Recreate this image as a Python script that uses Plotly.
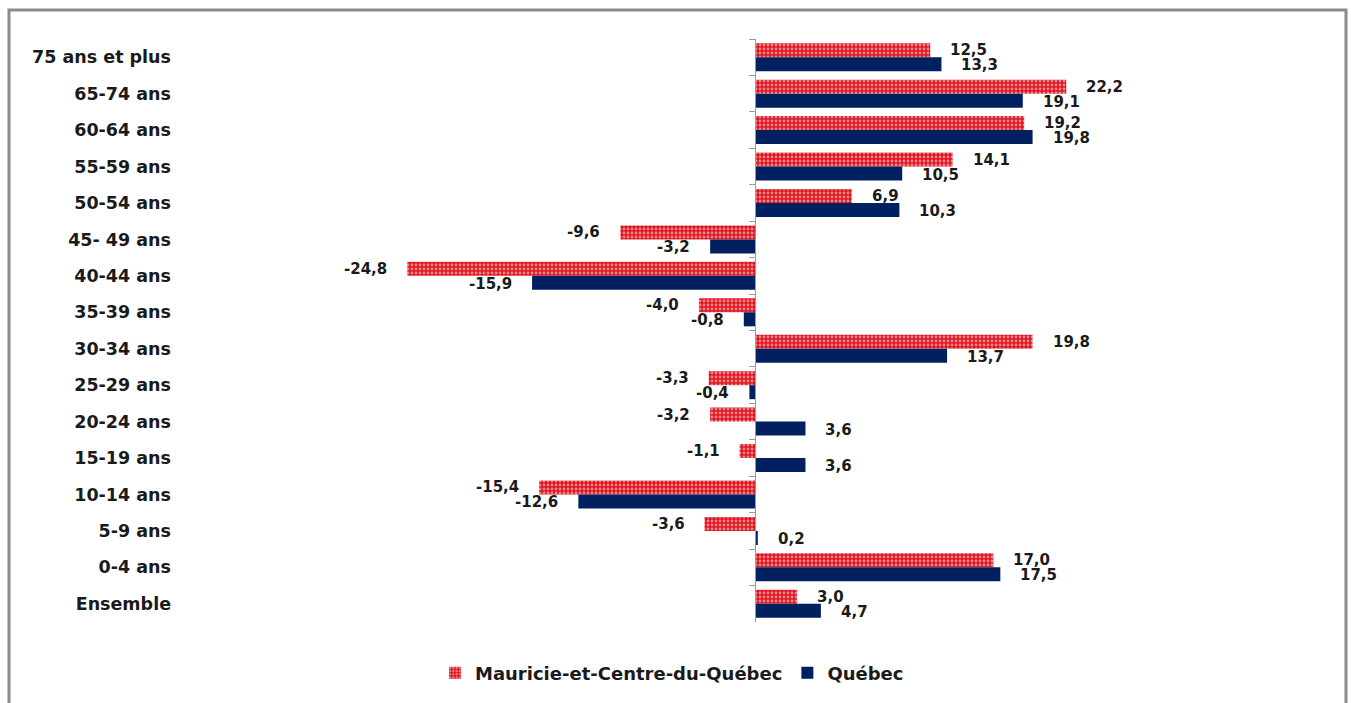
import plotly.graph_objects as go

categories = ["75 ans et plus", "65-74 ans", "60-64 ans", "55-59 ans", "50-54 ans",
              "45- 49 ans", "40-44 ans", "35-39 ans", "30-34 ans", "25-29 ans",
              "20-24 ans", "15-19 ans", "10-14 ans", "5-9 ans", "0-4 ans", "Ensemble"]
mauricie = [12.5, 22.2, 19.2, 14.1, 6.9, -9.6, -24.8, -4.0, 19.8, -3.3, -3.2, -1.1, -15.4, -3.6, 17.0, 3.0]
quebec = [13.3, 19.1, 19.8, 10.5, 10.3, -3.2, -15.9, -0.8, 13.7, -0.4, 3.6, 3.6, -12.6, 0.2, 17.5, 4.7]
series_names = ["Mauricie-et-Centre-du-Québec", "Québec"]

RED = "#e0121c"
NAVY = "#002060"
FONT = "DejaVu Sans"

W, H = 1351, 703
L, R, T, B = 178, 21, 39, 81
zero_px = 755.0
scale = 14.02  # px per unit
xmin = (L - zero_px) / scale
xmax = (W - R - zero_px) / scale
zero_frac = (0 - xmin) / (xmax - xmin)
n = len(categories)
yrange = [n - 0.5, -0.5]

fig = go.Figure()
fig.add_trace(go.Bar(
    y=categories, x=mauricie, orientation="h", name=series_names[0],
    marker=dict(color=RED, line=dict(width=0),
                pattern=dict(shape=".", fgcolor="white", bgcolor=RED, size=4, solidity=0.4)),
    hoverinfo="x+y",
))
fig.add_trace(go.Bar(
    y=categories, x=quebec, orientation="h", name=series_names[1],
    marker=dict(color=NAVY, line=dict(width=0)),
    hoverinfo="x+y",
))
# invisible trace to populate the label axis
fig.add_trace(go.Scatter(
    y=categories, x=[0] * n, yaxis="y2", mode="markers",
    marker=dict(opacity=0), showlegend=False, hoverinfo="skip",
))

def fmt(v):
    return f"{v:.1f}".replace(".", ",")

annotations = []
for vals, ys in ((mauricie, 7), (quebec, -8)):
    for c, v in zip(categories, vals):
        annotations.append(dict(
            x=v, y=c, xref="x", yref="y", text=fmt(v), showarrow=False,
            xanchor="left" if v >= 0 else "right",
            xshift=18 if v >= 0 else -18, yshift=ys,
            font=dict(family=FONT, size=15, color="#1a1a1a", weight="bold"),
        ))

plot_w = W - L - R
plot_h = H - T - B
def px_x(p):
    return (p - L) / plot_w
def px_y(p):
    return (H - B - p) / plot_h

fig.update_layout(
    width=W, height=H,
    margin=dict(l=L, r=R, t=T, b=B),
    plot_bgcolor="white", paper_bgcolor="white",
    barmode="group", bargap=0.23, bargroupgap=0,
    xaxis=dict(range=[xmin, xmax], visible=False, fixedrange=True),
    yaxis=dict(type="category", categoryarray=categories, categoryorder="array",
               range=yrange, autorange=False, anchor="free", position=zero_frac,
               showline=True, linecolor="#9a9a9a", linewidth=1,
               ticks="outside", tickson="boundaries", ticklen=6, tickcolor="#9a9a9a",
               showticklabels=False, showgrid=False, zeroline=False),
    yaxis2=dict(type="category", categoryarray=categories, categoryorder="array",
                range=yrange, autorange=False, overlaying="y", anchor="free", position=0,
                side="left", showline=False, ticks="", showgrid=False, ticklabelstandoff=7,
                tickfont=dict(family=FONT, size=17.5, color="#1a1a1a", weight="bold")),
    legend=dict(orientation="h", x=px_x(672), xanchor="center", y=px_y(673), yanchor="middle",
                font=dict(family=FONT, size=18, color="#1a1a1a", weight="bold"),
                itemwidth=30, traceorder="normal"),
    annotations=annotations,
    shapes=[dict(type="rect", xref="paper", yref="paper",
                 x0=px_x(9), x1=px_x(1346), y0=px_y(720), y1=px_y(10),
                 line=dict(color="#8c8c8c", width=3), fillcolor="rgba(0,0,0,0)", layer="below")],
)

fig.write_html("out.html", config={"displayModeBar": False},
               post_script="document.body.style.margin='0';")
